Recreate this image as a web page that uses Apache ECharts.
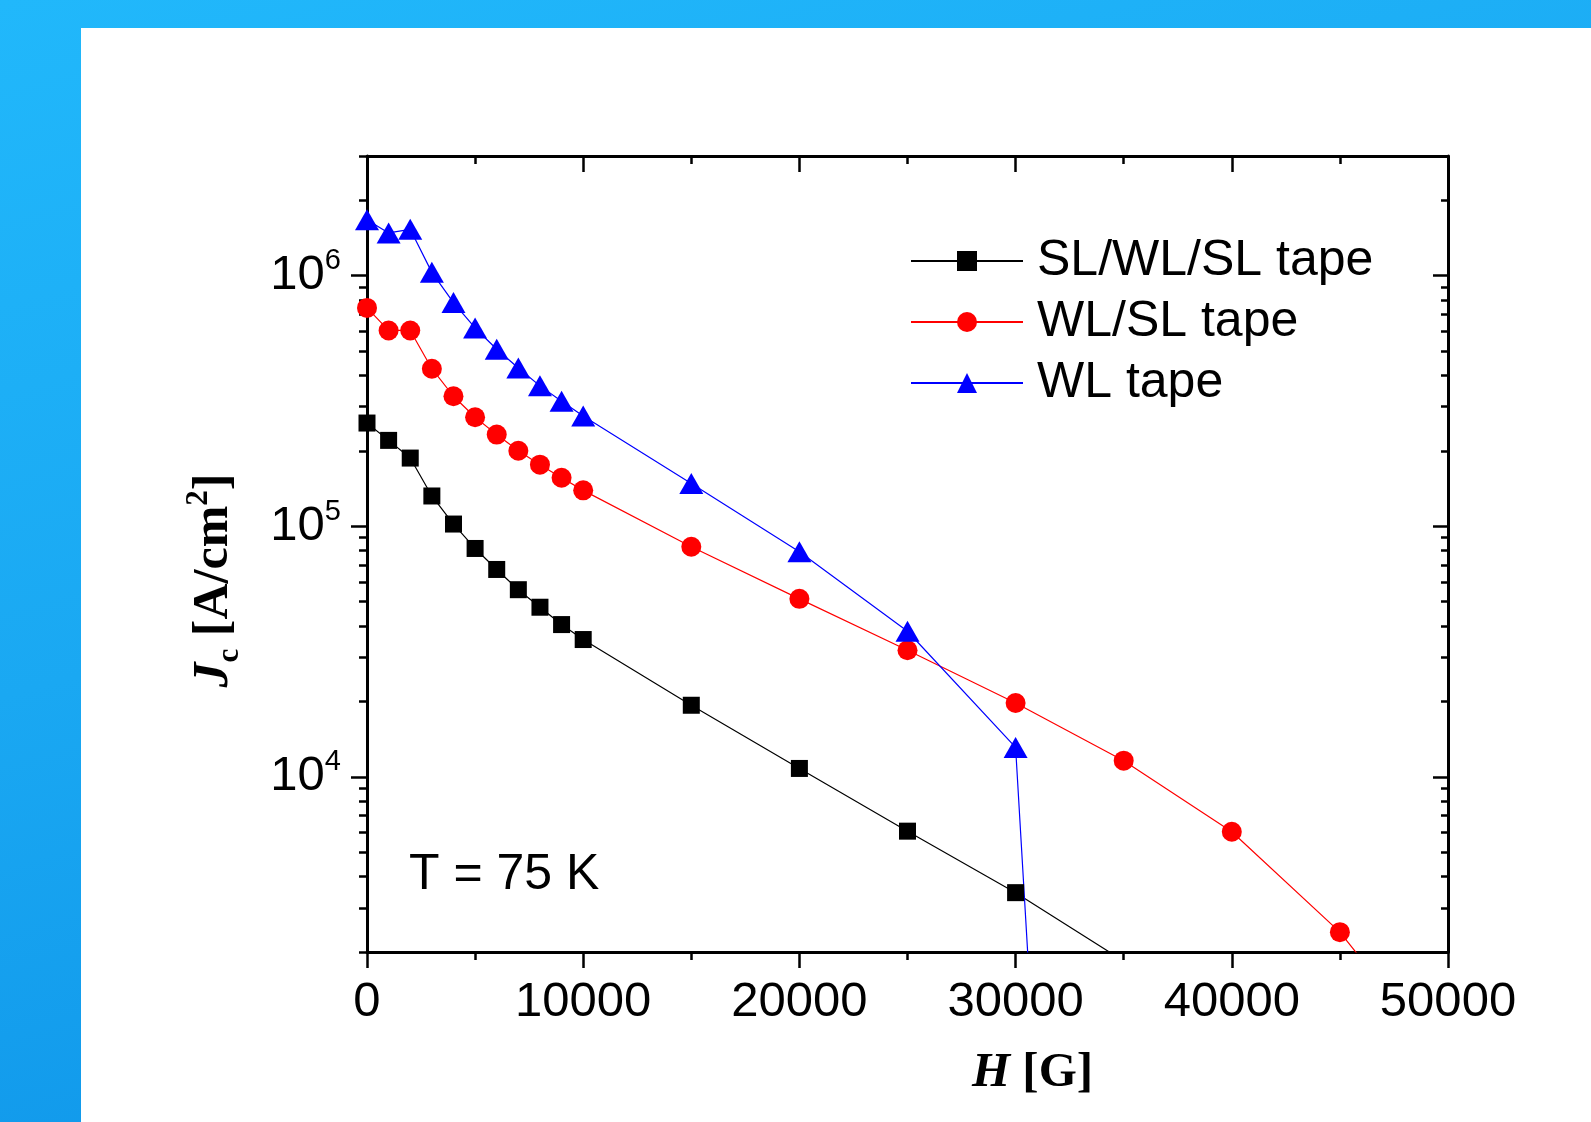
<!DOCTYPE html>
<html>
<head>
<meta charset="utf-8">
<script src="https://cdn.jsdelivr.net/npm/echarts@6/dist/echarts.min.js"></script>
<style>
    html, body { margin: 0; padding: 0; width: 1591px; height: 1122px; overflow: hidden; }
    body { position: relative; background: linear-gradient(165deg, #21b8fb 0%, #1aa8f2 45%, #0b8fe6 100%); }
    #panel { position: absolute; left: 81px; top: 28px; right: 0; bottom: 0; background: #fff; }
    #main { position: absolute; left: 0; top: 0; width: 1591px; height: 1122px; }
</style>
</head>
<body>
<div id="panel"></div>
<div id="main"></div>
<script>
    // field H [G] and Jc [A/cm2] for each tape
    const hSWS = [0, 1000, 2000, 3000, 4000, 5000, 6000, 7000, 8000, 9000, 10000, 15000, 20000, 25000, 30000, 35000];
    const jcSWS = [2.58e5, 2.20e5, 1.87e5, 1.32e5, 1.02e5, 8.15e4, 6.72e4, 5.58e4, 4.75e4, 4.05e4, 3.53e4, 1.93e4, 1.08e4, 6.07e3, 3.45e3, 1840];

    const hWS = [0, 1000, 2000, 3000, 4000, 5000, 6000, 7000, 8000, 9000, 10000, 15000, 20000, 25000, 30000, 35000, 40000, 45000, 50000];
    const jcWS = [7.43e5, 6.04e5, 6.04e5, 4.25e5, 3.30e5, 2.72e5, 2.32e5, 2.00e5, 1.76e5, 1.56e5, 1.39e5, 8.28e4, 5.13e4, 3.20e4, 1.97e4, 1.16e4, 6.04e3, 2.40e3, 690];

    const hW = [0, 1000, 2000, 3000, 4000, 5000, 6000, 7000, 8000, 9000, 10000, 15000, 20000, 25000, 30000, 31000];
    const jcW = [1.67e6, 1.48e6, 1.53e6, 1.03e6, 7.8e5, 6.18e5, 5.08e5, 4.28e5, 3.63e5, 3.15e5, 2.75e5, 1.48e5, 7.9e4, 3.81e4, 1.31e4, 450];

    const seriesNames = ['SL/WL/SL tape', 'WL/SL tape', 'WL tape'];

    // log axis ticks
    const yMajorTicks = [1e4, 1e5, 1e6];
    const yMinorTicks = [2000, 3000, 4000, 5000, 6000, 7000, 8000, 9000,
        2e4, 3e4, 4e4, 5e4, 6e4, 7e4, 8e4, 9e4,
        2e5, 3e5, 4e5, 5e5, 6e5, 7e5, 8e5, 9e5,
        2e6, 3e6];

    const zip = (xs, ys) => xs.map((x, i) => [x, ys[i]]);

    const chart = echarts.init(document.getElementById('main'));

    const lineCol = { color: '#000', width: 3 };

    // x axes: bottom with labels, top mirror with inside ticks
    const makeX = (pos, inside, showLabel) => ({
        type: 'value', position: pos, min: 0, max: 50000, interval: 10000,
        axisLine: { show: true, onZero: false, lineStyle: lineCol },
        axisTick: { show: true, inside: inside, length: 16, lineStyle: { color: '#000', width: 2.5 } },
        minorTick: { show: true, splitNumber: 2, length: 8, lineStyle: { color: '#000', width: 2.5 } },
        splitLine: { show: false },
        axisLabel: {
            show: showLabel, margin: 26, color: '#000', fontSize: 49, fontFamily: 'Liberation Sans',
            formatter: v => String(v)
        }
    });

    // y axes: log scale, major and minor ticks on separate axes
    const makeY = (pos, inside, ticks, len, showLine, showLabel) => ({
        type: 'log', logBase: 10, position: pos, min: 2000, max: 3e6,
        axisLine: { show: showLine, onZero: false, lineStyle: lineCol },
        axisTick: { show: true, inside: inside, length: len, customValues: ticks, lineStyle: { color: '#000', width: 2.5 } },
        splitLine: { show: false },
        axisLabel: {
            show: showLabel, customValues: yMajorTicks, margin: 26,
            fontSize: 49, fontFamily: 'Liberation Sans', color: '#000',
            formatter: v => '{b|10}{s|' + Math.round(Math.log10(v)) + '}',
            rich: {
                b: { fontSize: 49, fontFamily: 'Liberation Sans', color: '#000', lineHeight: 58 },
                s: { fontSize: 29, fontFamily: 'Liberation Sans', color: '#000', lineHeight: 29, verticalAlign: 'top' }
            }
        }
    });

    const yLeft = makeY('left', false, yMajorTicks, 16, true, true);
    yLeft.name = '{i|J}{sub|c} [A/cm{sup|2}]';
    yLeft.nameLocation = 'middle';
    yLeft.nameRotate = 90;
    yLeft.nameGap = 122;
    yLeft.nameTextStyle = {
        fontFamily: 'Liberation Serif', fontWeight: 'bold', fontSize: 50, color: '#000',
        lineHeight: 62,
        padding: [0, 53, 0, 0],
        rich: {
            i: { fontFamily: 'Liberation Serif', fontWeight: 'bold', fontStyle: 'italic', fontSize: 50, color: '#000', lineHeight: 62 },
            sub: { fontFamily: 'Liberation Serif', fontWeight: 'bold', fontSize: 31, color: '#000', verticalAlign: 'bottom', lineHeight: 30 },
            sup: { fontFamily: 'Liberation Serif', fontWeight: 'bold', fontSize: 31, color: '#000', verticalAlign: 'top', lineHeight: 30 }
        }
    };

    const xBottom = makeX('bottom', false, true);
    xBottom.name = '{i|H} [G]';
    xBottom.nameLocation = 'middle';
    xBottom.nameGap = 97;
    xBottom.nameTextStyle = {
        fontFamily: 'Liberation Serif', fontWeight: 'bold', fontSize: 49, color: '#000',
        padding: [0, 0, 0, 250],
        rich: {
            i: { fontFamily: 'Liberation Serif', fontWeight: 'bold', fontStyle: 'italic', fontSize: 49, color: '#000' }
        }
    };

    const marks = [
        { name: seriesNames[0], data: zip(hSWS, jcSWS), color: '#000000', symbol: 'rect', size: 17 },
        { name: seriesNames[1], data: zip(hWS, jcWS), color: '#ff0000', symbol: 'circle', size: 20 },
        { name: seriesNames[2], data: zip(hW, jcW), color: '#0000ff', symbol: 'triangle', size: [24, 21] }
    ];

    const option = {
        animation: false,
        backgroundColor: 'transparent',
        grid: { left: 367, right: 143, top: 156, bottom: 170, containLabel: false },
        title: {
            text: 'T = 75 K', left: 409, top: 850, padding: 0,
            textStyle: { fontFamily: 'Liberation Sans', fontSize: 50, fontWeight: 'normal', color: '#000' }
        },
        legend: {
            orient: 'vertical', left: 910, top: 236, padding: 0,
            itemWidth: 112, itemHeight: 25, itemGap: 11,
            data: seriesNames,
            textStyle: { fontFamily: 'Liberation Sans', fontSize: 50, color: '#000', lineHeight: 50, padding: [0, 0, 0, 9] }
        },
        xAxis: [xBottom, makeX('top', true, false)],
        yAxis: [
            yLeft,
            makeY('right', true, yMajorTicks, 15, true, false),
            makeY('left', false, yMinorTicks, 8, false, false),
            makeY('right', true, yMinorTicks, 7, false, false)
        ],
        series: marks.map(m => ({
            name: m.name,
            type: 'line',
            xAxisIndex: 0,
            yAxisIndex: 0,
            data: m.data,
            symbol: m.symbol,
            symbolSize: m.size,
            showSymbol: true,
            itemStyle: { color: m.color },
            lineStyle: { color: m.color, width: 1.2 },
            emphasis: { disabled: true }
        }))
    };

    chart.setOption(option);
</script>
</body>
</html>
